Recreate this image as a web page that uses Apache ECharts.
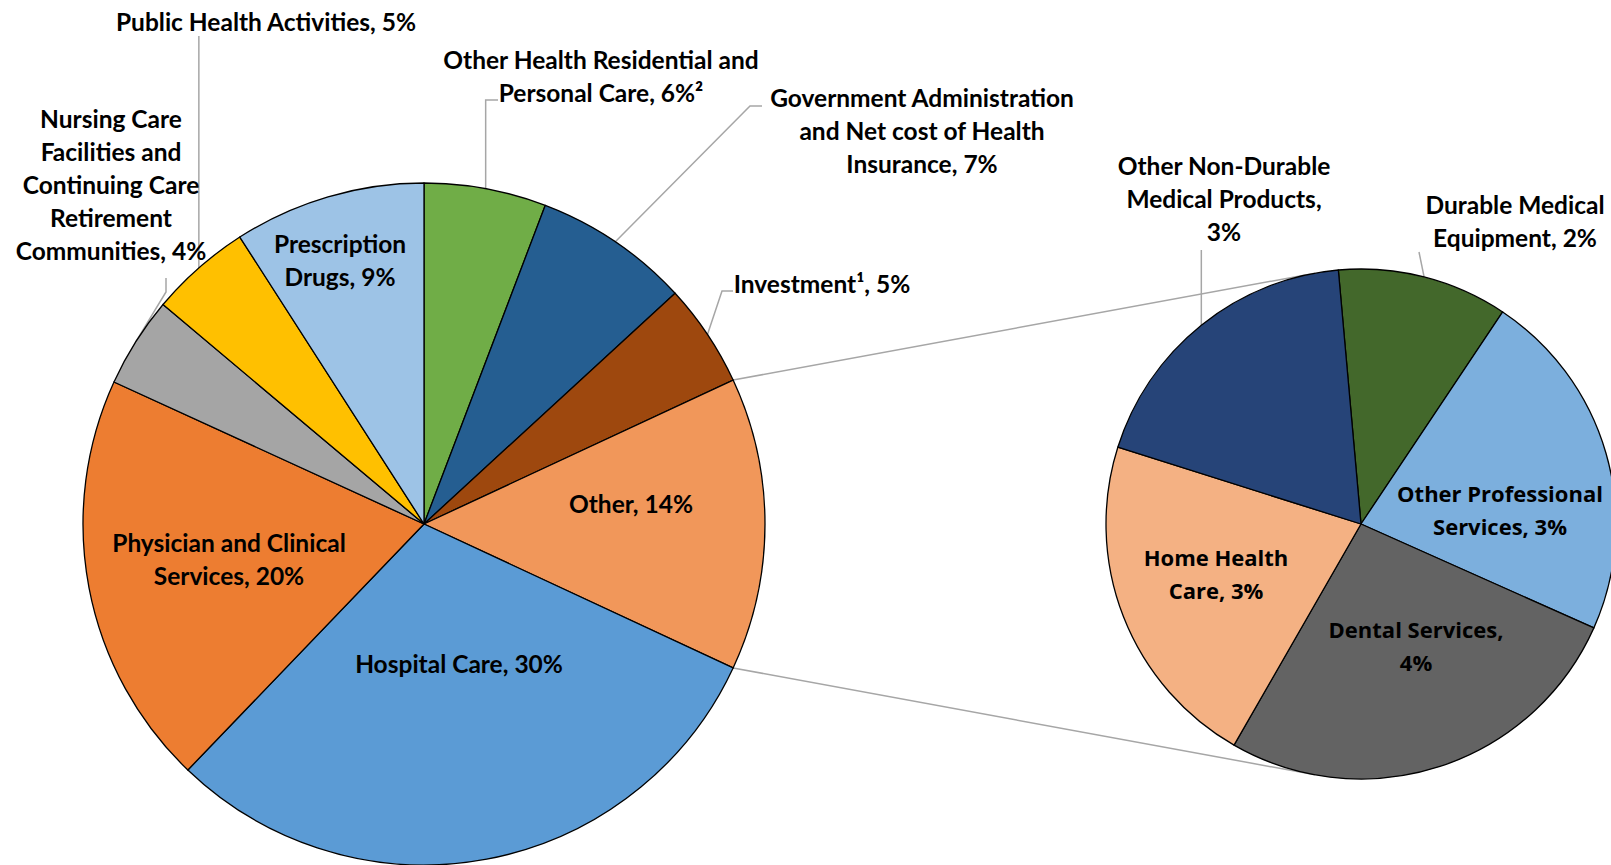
<!DOCTYPE html>
<html>
<head>
<meta charset="utf-8">
<script src="https://cdn.jsdelivr.net/npm/echarts@6/dist/echarts.min.js"></script>
<style>
html,body{margin:0;padding:0;background:#fff;}
#chart{width:1611px;height:865px;}
</style>
</head>
<body>
<div id="chart"></div>
<script>
// ---- data ----
const mainCategories = ['Other Health Residential and Personal Care', 'Government Administration and Net cost of Health Insurance', 'Investment', 'Other', 'Hospital Care', 'Physician and Clinical Services', 'Nursing Care Facilities and Continuing Care Retirement Communities', 'Public Health Activities', 'Prescription Drugs'];
const mainLabelNames = ['Other Health Residential and\nPersonal Care', 'Government Administration\nand Net cost of Health\nInsurance', 'Investment¹', 'Other', 'Hospital Care', 'Physician and Clinical\nServices', 'Nursing Care\nFacilities and\nContinuing Care\nRetirement\nCommunities', 'Public Health Activities', 'Prescription\nDrugs'];
const mainValues = [5.8, 7.4, 4.9, 13.9, 30.3, 19.7, 4.3, 4.8, 9.1];
const mainPct = ['6%²', '7%', '5%', '14%', '30%', '20%', '4%', '5%', '9%'];

const subCategories = ['Durable Medical Equipment', 'Other Professional Services', 'Dental Services', 'Home Health Care', 'Other Non-Durable Medical Products'];
const subLabelNames = ['Durable Medical\nEquipment', 'Other Professional\nServices', 'Dental Services,\n', 'Home Health\nCare', 'Other Non-Durable\nMedical Products,\n'];
const subValues = [1.5, 3.1, 3.7, 3.0, 2.6];
const subPct = ['2%', '3%', '4%', '3%', '3%'];

// ---- layout / style ----
const MAIN_C = [424, 524], MAIN_R = 341, MAIN_START = 90;
const SUB_C = [1361, 524], SUB_R = 255, SUB_START = 95.1;
const mainColors = ['#70AD47', '#255E91', '#9E480E', '#F1975A', '#5B9BD5', '#ED7D31', '#A5A5A5', '#FFC000', '#9DC3E6'];
const subColors = ['#43682B', '#7CAFDD', '#636363', '#F4B183', '#264478'];
const mainLabelPos = [[601,76],[922,130],[822,283],[631,503],[459,663],[229,559],[111,184],[266,21],[340,260]];
const subLabelPos = [[1515,221],[1500,509],[1416,645],[1216,573],[1224,198]];
const subInside = [false, true, true, true, false];
const mainElbows = {0: [['mid',100],[498,100]], 1: [[750,106],[762,106]], 2: [[722,291],[733,291]], 6: [[166,292],[166,278]], 7: [['mid',36]]};
const subElbows = {0: [[1419,252]], 4: [['mid',250]]};
const FONT_MAIN = 'Lato, sans-serif';
const FONT_SUB = '"Open Sans", Lato, sans-serif';

function joinLabel(name, pct) {
  return name.endsWith('\n') ? name + pct : name + ', ' + pct;
}

// angle helpers (clockwise degrees from 12 o'clock)
function cumAngles(values, startCw) {
  const total = values.reduce((a, b) => a + b, 0);
  let acc = startCw;
  return values.map(v => { const s = acc; acc += v / total * 360; return [s, acc]; });
}
function pt(c, r, degCw) {
  const a = degCw * Math.PI / 180;
  return [c[0] + r * Math.sin(a), c[1] - r * Math.cos(a)];
}
const mainAng = cumAngles(mainValues, 90 - MAIN_START);
const subAng = cumAngles(subValues, 90 - SUB_START);

function leaderLines(elbows, ang, c, r) {
  const out = [];
  Object.keys(elbows).forEach(k => {
    const i = +k;
    const mid = pt(c, r, (ang[i][0] + ang[i][1]) / 2);
    const pts = [mid].concat(elbows[k].map(p => [p[0] === 'mid' ? mid[0] : p[0], p[1]]));
    out.push({ type: 'polyline', z: 1, shape: { points: pts }, style: { stroke: '#A6A6A6', lineWidth: 1.5, fill: null } });
  });
  return out;
}

// connector lines: Other slice edges to tangent points of second pie
const otherIdx = mainCategories.indexOf('Other');
function tangent(P, C, r, top) {
  const dx = P[0] - C[0], dy = P[1] - C[1];
  const d = Math.hypot(dx, dy);
  const phi = Math.atan2(dy, dx), al = Math.acos(r / d);
  const cands = [phi + al, phi - al].map(a => [C[0] + r * Math.cos(a), C[1] + r * Math.sin(a)]);
  cands.sort((a, b) => a[1] - b[1]);
  return top ? cands[0] : cands[1];
}
const pTop = pt(MAIN_C, MAIN_R, mainAng[otherIdx][0]);
const pBot = pt(MAIN_C, MAIN_R, mainAng[otherIdx][1]);
const tTop = tangent(pTop, SUB_C, SUB_R, true), tBot = tangent(pBot, SUB_C, SUB_R, false);
const connectors = [
  { type: 'line', z: 1, shape: { x1: pTop[0], y1: pTop[1], x2: tTop[0], y2: tTop[1] }, style: { stroke: '#A6A6A6', lineWidth: 1.5 } },
  { type: 'line', z: 1, shape: { x1: pBot[0], y1: pBot[1], x2: tBot[0], y2: tBot[1] }, style: { stroke: '#A6A6A6', lineWidth: 1.5 } }
];

const chart = echarts.init(document.getElementById('chart'), null, { renderer: 'svg' });
chart.setOption({
  backgroundColor: '#fff',
  animation: false,
  graphic: { elements: connectors.concat(leaderLines(mainElbows, mainAng, MAIN_C, MAIN_R)).concat(leaderLines(subElbows, subAng, SUB_C, SUB_R)) },
  series: [
    {
      type: 'pie', center: MAIN_C, radius: MAIN_R, startAngle: MAIN_START, clockwise: true,
      avoidLabelOverlap: false, z: 2,
      itemStyle: { borderColor: '#000', borderWidth: 1.3 },
      emphasis: { disabled: true },
      label: { show: true, position: 'inside', color: '#000', fontFamily: FONT_MAIN, fontWeight: 'bold', fontSize: 24.5, lineHeight: 33, align: 'center',
        formatter: p => joinLabel(mainLabelNames[p.dataIndex], mainPct[p.dataIndex]) },
      labelLine: { show: false },
      labelLayout: p => ({ x: mainLabelPos[p.dataIndex][0], y: mainLabelPos[p.dataIndex][1], align: 'center', verticalAlign: 'middle' }),
      data: mainCategories.map((n, i) => ({ name: n, value: mainValues[i], itemStyle: { color: mainColors[i] } }))
    },
    {
      type: 'pie', center: SUB_C, radius: SUB_R, startAngle: SUB_START, clockwise: true,
      avoidLabelOverlap: false, z: 2,
      itemStyle: { borderColor: '#000', borderWidth: 1.3 },
      emphasis: { disabled: true },
      label: { show: true, position: 'inside', color: '#000', fontWeight: 'bold', lineHeight: 33, align: 'center',
        formatter: p => joinLabel(subLabelNames[p.dataIndex], subPct[p.dataIndex]) },
      labelLine: { show: false },
      labelLayout: p => ({ x: subLabelPos[p.dataIndex][0], y: subLabelPos[p.dataIndex][1], align: 'center', verticalAlign: 'middle' }),
      data: subCategories.map((n, i) => ({ name: n, value: subValues[i], itemStyle: { color: subColors[i] },
        label: subInside[i] ? { fontFamily: FONT_SUB, fontSize: 22 } : { fontFamily: FONT_MAIN, fontSize: 24.5 } }))
    }
  ]
});
</script>
</body>
</html>
